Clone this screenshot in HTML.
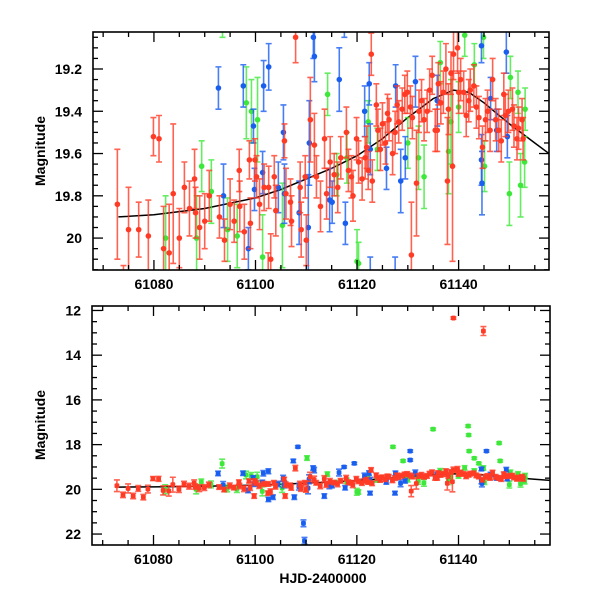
<!DOCTYPE html>
<html><head><meta charset="utf-8"><style>
html,body{margin:0;padding:0;background:#fff;width:600px;height:600px;overflow:hidden;}
svg{display:block;font-family:"Liberation Sans",sans-serif;}
</style></head><body>
<svg id="chart" width="600" height="600" viewBox="0 0 600 600" xmlns="http://www.w3.org/2000/svg">
<defs>
<clipPath id="clipTop"><rect x="93" y="32" width="456" height="238"/></clipPath>
<clipPath id="clipBot"><rect x="92" y="306" width="458" height="239"/></clipPath>
</defs>
<rect width="600" height="600" fill="#fff"/>
<g id="top"></g>
<g id="bot"></g>
<text x="0" y="0" transform="translate(45,151) rotate(-90)" text-anchor="middle" font-size="14" font-weight="bold">Magnitude</text>
<text x="0" y="0" transform="translate(45,425) rotate(-90)" text-anchor="middle" font-size="14" font-weight="bold">Magnitude</text>
<text x="323" y="583" text-anchor="middle" font-size="14" font-weight="bold">HJD-2400000</text>
</svg>
<script>
const redT=[61072.8,61074,61075,61076,61077,61078,61078.9,61079.9,61081,61081.9,61083,61083.8,61085,61086,61087,61088,61088.2,61089,61090,61090.9,61092.9,61093.9,61095,61095.8,61096.8,61096.9,61097.8,61098.8,61099,61099.8,61099.9,61100.2,61100.8,61101.7,61102.5,61102.6,61103,61103.7,61104,61105.7,61105.9,61106,61106.9,61107.1,61107.9,61108.8,61109,61109.8,61110,61110.8,61111.6,61112,61112.8,61113.6,61114,61114.7,61115.5,61116.2,61116.8,61117.9,61118.3,61118.9,61119.2,61119.9,61120.3,61121,61121.6,61121.9,61122.2,61122.8,61123,61123.8,61124.1,61124.6,61125,61125.6,61126,61126.3,61127,61127.5,61127.9,61128.2,61128.9,61129.4,61129.9,61130.5,61130.7,61130.9,61131.7,61132.2,61132.7,61133.2,61133.8,61134.3,61134.8,61135.4,61135.8,61136,61136.5,61137,61137.5,61137.8,61138,61138.5,61138.8,61139,61139,61139.8,61140,61140.4,61141,61141.5,61142,61142.3,61143,61143.5,61144,61144.7,61144.9,61145.3,61145.7,61146.2,61146.7,61147.3,61147.9,61148.4,61148.9,61149.2,61149.8,61150.6,61150.9,61151.5,61151.8,61152.5,61152.7];
const redMag=[19.84,20.25,19.96,20.3,19.96,20.35,19.99,19.52,19.53,20.05,20.07,19.79,20.0,19.76,19.86,19.72,19.88,19.95,19.92,19.80,19.90,20.01,19.84,19.92,19.68,19.85,19.97,19.63,19.93,20.3,19.63,19.71,19.84,19.76,20.17,19.76,20.10,19.71,19.87,19.54,20.3,19.79,19.83,19.92,19.05,19.76,19.96,19.71,20.01,19.44,19.56,19.71,19.85,19.53,19.79,19.64,19.7,19.76,19.62,19.50,19.68,19.71,19.80,19.53,19.64,19.72,19.62,19.57,19.68,19.13,19.73,19.37,19.49,19.58,19.46,19.55,19.41,19.44,19.60,19.5,19.37,19.45,19.39,19.32,19.31,19.38,20.08,19.43,19.74,19.40,19.35,19.44,19.40,19.30,19.23,19.49,19.49,19.27,19.36,19.31,19.2,19.73,19.39,19.22,19.66,19.13,12.34,19.10,19.31,19.25,19.31,19.42,19.35,19.30,19.28,19.38,19.43,19.57,12.92,19.44,19.40,19.49,19.25,19.44,19.49,19.54,19.32,19.42,19.40,19.39,19.47,19.53,19.48,19.44,19.53];
const redErr=[.26,.12,.2,.12,.13,.12,.17,.09,.11,.2,.23,.33,.14,.12,.13,.14,.12,.15,.13,.12,.1,.1,.12,.1,.1,.12,.13,.09,.12,.1,.1,.1,.12,.11,.1,.1,.12,.1,.12,.08,.1,.12,.11,.12,.12,.12,.13,.1,.12,.2,.15,.1,.12,.14,.12,.12,.1,.12,.1,.12,.1,.1,.12,.1,.1,.1,.1,.1,.09,.1,.1,.1,.1,.1,.1,.1,.09,.1,.1,.1,.09,.1,.1,.09,.1,.1,.25,.1,.25,.1,.1,.1,.1,.1,.09,.1,.1,.1,.1,.1,.12,.3,.12,.1,.45,.12,.05,.12,.1,.1,.1,.1,.1,.1,.1,.1,.1,.1,.2,.1,.1,.1,.1,.1,.1,.1,.1,.1,.1,.1,.1,.1,.1,.1,.1];
const greenT=[61082.3,61088.4,61089.4,61091.3,61093.5,61094.5,61096.4,61098.2,61099.2,61100.4,61101.4,61105.3,61110.2,61114.2,61116,61118,61120,61120.3,61122.2,61124,61127.1,61129.1,61130,61132.1,61133.2,61135,61136.4,61138,61138.5,61140,61141.2,61141.9,61142,61142.1,61143.1,61143.1,61144,61144.9,61145.1,61148,61148.2,61150,61150.2,61151.7,61152.2,61153,61153.1];
const greenMag=[20.0,20.0,19.66,19.78,18.85,19.96,19.99,19.36,19.40,19.44,20.09,19.94,18.6,19.32,19.7,19.62,20.11,20.12,19.45,19.58,18.1,18.73,19.55,19.62,19.71,17.31,19.17,19.59,19.45,19.38,19.04,17.17,17.57,18.29,18.61,19.18,18.84,19.05,19.66,17.93,18.73,19.79,19.24,19.31,19.75,19.64,19.39];
const greenErr=[.2,.2,.12,.15,.2,.15,.15,.17,.15,.2,.2,.2,.1,.1,.1,.12,.15,.1,.1,.1,.05,.05,.12,.15,.15,.05,.1,.2,.2,.12,.1,.05,.05,.05,.05,.1,.05,.1,.12,.05,.05,.15,.1,.1,.15,.12,.1];
const blueT=[61092.7,61093.7,61097.6,61098.6,61099.6,61099.8,61101.4,61101.6,61102.6,61102.6,61103.5,61104.5,61105.5,61105.7,61107.5,61107.7,61108.4,61108.6,61109.5,61109.7,61110.4,61110.6,61111.4,61111.6,61113.6,61114.6,61115.1,61116.5,61117.5,61117.7,61119.5,61121.5,61122.4,61122.6,61122.6,61125.8,61127.5,61127.6,61128.6,61129.5,61130.5,61130.5,61131.5,61135.8,61144.5,61144.5,61144.6,61145.5,61146.3,61147.5,61149.4,61149.6];
const blueMag=[19.29,19.80,19.28,20.05,19.47,19.77,19.69,19.28,19.19,20.45,20.35,19.76,19.50,19.79,18.73,20.35,18.1,19.88,21.52,22.3,19.95,19.55,19.05,19.14,20.3,19.82,19.83,19.25,19.0,19.93,18.84,19.40,19.27,19.58,20.17,19.67,20.17,19.28,19.73,19.62,18.29,18.69,19.26,19.35,19.09,19.63,19.74,18.29,19.34,19.49,19.12,19.52];
const blueErr=[.1,.15,.1,.1,.08,.1,.1,.12,.11,.1,.1,.12,.13,.14,.08,.1,.05,.15,.15,.15,.25,.2,.1,.12,.1,.15,.1,.15,.05,.1,.05,.12,.1,.12,.08,.1,.08,.1,.15,.1,.05,.05,.12,.12,.08,.12,.15,.05,.1,.1,.1,.1];
const curveT=[61073,61080,61090,61100,61105,61110,61115,61120,61125,61130,61135,61139,61142,61145,61150,61155,61158];
const curveMag=[19.90,19.89,19.86,19.81,19.77,19.72,19.67,19.61,19.53,19.43,19.34,19.30,19.31,19.36,19.46,19.55,19.60];
const xTicks=[61080,61100,61120,61140];
const topYTicks=[19.2,19.4,19.6,19.8,20];
const botYTicks=[12,14,16,18,20,22];

const NS="http://www.w3.org/2000/svg";
function mk(tag,attrs,parent){const e=document.createElementNS(NS,tag);for(const k in attrs)e.setAttribute(k,attrs[k]);parent.appendChild(e);return e;}
const COL={red:"#ff3b26",green:"#3ee83a",blue:"#1a5ef0"};

function panel(gid,clip,x0,x1,y0,y1,tMin,tMax,mTop,mBot,yTicks,yMinor,kind){
  const g=document.getElementById(gid);
  const X=t=>x0+(t-tMin)/(tMax-tMin)*(x1-x0);
  const Y=m=>y0+(m-mTop)/(mBot-mTop)*(y1-y0);
  const clampY=y=>Math.max(y0,Math.min(y1,y));
  const data=mk("g",{"clip-path":"url(#"+clip+")"},g);
  
  
  let d="";curveT.forEach((t,i)=>{d+=(i?"L":"M")+Math.min(x1,X(t)).toFixed(1)+","+Y(curveMag[i]).toFixed(1);});
  const cp=mk("path",{d:d,fill:"none",stroke:"#000","stroke-width":1.5},data);
  
  
  const series=[["green",greenT,greenMag,greenErr],["blue",blueT,blueMag,blueErr],["red",redT,redMag,redErr]];
  series.forEach(([name,T,M,E])=>{
    const sg=mk("g",{},data);
    
    
    T.forEach((t,i)=>{
      const cx=X(t),cy=Y(M[i]),ya=Y(M[i]-E[i]),yb=Y(M[i]+E[i]);
      if(yb<y0||ya>y1)return;
      const ca=clampY(ya),cb=clampY(yb);
      let dd=`M${cx},${ca}L${cx},${cb}`;
      if(ya>=y0)dd+=`M${cx-3},${ya}L${cx+3},${ya}`;
      if(yb<=y1)dd+=`M${cx-3},${yb}L${cx+3},${yb}`;
      const eb=mk("path",{d:dd,stroke:COL[name],"stroke-width":1.6,"stroke-opacity":0.8,fill:"none"},sg);
      
      
      if(cy<y0-3||cy>y1+3)return;
      let p;
      if(kind==="top"){p=mk("circle",{cx:cx,cy:cy,r:2.8,fill:COL[name]},sg);}
      else{p=mk("rect",{x:cx-2.4,y:cy-2.4,width:4.8,height:4.8,rx:1.2,fill:COL[name]},sg);}
      
      
    });
  });
  const fr=mk("rect",{x:x0,y:y0,width:x1-x0,height:y1-y0,fill:"none",stroke:"#000","stroke-width":1.6},g);
  
  
  const tk=mk("g",{stroke:"#000","stroke-width":1.3},g);
  
  
  for(let t=61070;t<=tMax;t+=5){
    const x=X(t);if(x<x0||x>x1)continue;const L=(t%20===0)?10:5;
    mk("line",{x1:x,y1:y1,x2:x,y2:y1-L},tk);mk("line",{x1:x,y1:y0,x2:x,y2:y0+L},tk);
  }
  const lo=Math.min(mTop,mBot),hi=Math.max(mTop,mBot);
  for(let m=Math.ceil(lo/yMinor)*yMinor;m<=hi+1e-9;m+=yMinor){
    const y=Y(m);const maj=yTicks.some(v=>Math.abs(v-m)<1e-6);const L=maj?10:5;
    mk("line",{x1:x0,y1:y,x2:x0+L,y2:y},tk);mk("line",{x1:x1,y1:y,x2:x1-L,y2:y},tk);
  }
  xTicks.forEach(t=>{
    const tx=mk("text",{x:X(t),y:y1+19,"text-anchor":"middle","font-size":14,"font-weight":"bold"},g);
    tx.textContent=t;
    
    
  });
  yTicks.forEach(m=>{
    const tx=mk("text",{x:x0-11,y:Y(m)+5,"text-anchor":"end","font-size":14,"font-weight":"bold"},g);
    tx.textContent=m;
    
    
  });
}
panel("top","clipTop",93,549,32,270,61068,61157.8,19.025,20.151,topYTicks,0.05,"top");
panel("bot","clipBot",92,550,306,545,61067.9,61158,11.8,22.49,botYTicks,0.5,"bot");
</script>
</body></html>
